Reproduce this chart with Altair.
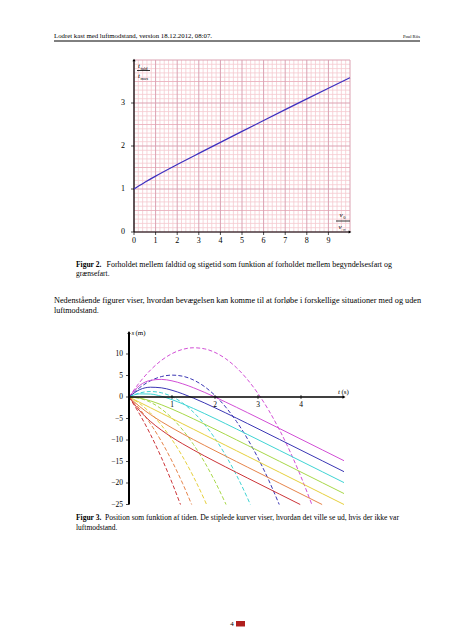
import altair as alt
import numpy as np
import pandas as pd

FONT = "Liberation Serif"

# ---------------- Figur 2: t_fald / t_max versus v0 / v_inf ----------------
RATIO_U = [0, 0.25, 0.5, 1, 2, 3, 4, 5, 6, 7, 8, 9, 10]
RATIO_R = [1.0, 1.08, 1.155, 1.299, 1.568, 1.828, 2.085, 2.34, 2.594, 2.846, 3.096, 3.343, 3.587]
FIG2_X_TICKS = [0, 1, 2, 3, 4, 5, 6, 7, 8, 9]
FIG2_Y_TICKS = [0, 1, 2, 3]

# ---------------- Figur 3: s(t) with (solid) and without (dashed) air resistance ----------------
SERIES_V0 = [15, 10, 5, 0, -5, -10, -15]
SERIES_COLORS = ["#d24fd6", "#3a36b4", "#3fd4d4", "#a8d848", "#e6d03c", "#e6844a", "#cc3438"]

T_GRID = [0, 0.25, 0.5, 0.75, 1, 1.25, 1.5, 1.75, 2, 2.25, 2.5, 2.75, 3, 3.5, 4, 4.5, 5]
SOLID_T_M10 = [0, 0.25, 0.5, 0.75, 1, 1.25, 1.5, 1.75, 2, 2.25, 2.5, 2.75, 3, 3.5, 4, 4.491]
SOLID_T_M15 = [0, 0.25, 0.5, 0.75, 1, 1.25, 1.5, 1.75, 2, 2.25, 2.5, 2.75, 3, 3.5, 3.982]
SOLID_15 = [0, 2.701, 3.869, 4.099, 3.755, 3.058, 2.148, 1.106, -0.017, -1.19, -2.392, -3.613, -4.845, -7.327, -9.821, -12.318, -14.817]
SOLID_10 = [0, 1.713, 2.276, 2.137, 1.566, 0.731, -0.264, -1.358, -2.513, -3.705, -4.919, -6.147, -7.384, -9.870, -12.366, -14.864, -17.363]
SOLID_5 = [0, 0.726, 0.684, 0.175, -0.623, -1.596, -2.676, -3.822, -5.009, -6.22, -7.446, -8.681, -9.922, -12.414, -14.91, -17.409, -19.909]
SOLID_0 = [0, -0.262, -0.908, -1.788, -2.811, -3.923, -5.088, -6.286, -7.504, -8.735, -9.973, -11.216, -12.461, -14.957, -17.455, -19.955, -22.454]
SOLID_M5 = [0, -1.25, -2.5, -3.75, -5, -6.25, -7.5, -8.75, -10, -11.25, -12.5, -13.75, -15, -17.5, -20, -22.5, -25]
SOLID_M10 = [0, -2.238, -4.092, -5.712, -7.189, -8.577, -9.912, -11.214, -12.496, -13.765, -15.027, -16.284, -17.539, -20.043, -22.545, -25]
SOLID_M15 = [0, -3.226, -5.684, -7.675, -9.377, -10.904, -12.324, -13.678, -14.991, -16.28, -17.554, -18.819, -20.078, -22.586, -25]

DASH_T_15 = [0, 0.25, 0.5, 0.75, 1, 1.25, 1.5, 1.75, 2, 2.25, 2.5, 2.75, 3, 3.25, 3.5, 3.75, 4, 4.252]
DASH_15 = [0, 3.443, 6.273, 8.488, 10.09, 11.078, 11.453, 11.213, 10.36, 8.893, 6.813, 4.118, 0.81, -3.112, -7.648, -12.797, -18.56, -25]
DASH_T_10 = [0, 0.25, 0.5, 0.75, 1, 1.25, 1.5, 1.75, 2, 2.25, 2.5, 2.75, 3, 3.25, 3.494]
DASH_10 = [0, 2.193, 3.773, 4.738, 5.09, 4.828, 3.953, 2.463, 0.36, -2.357, -5.688, -9.632, -14.19, -19.362, -25]
DASH_T_5 = [0, 0.25, 0.5, 0.75, 1, 1.25, 1.5, 1.75, 2, 2.25, 2.5, 2.75, 2.822]
DASH_5 = [0, 0.943, 1.273, 0.988, 0.09, -1.422, -3.548, -6.287, -9.64, -13.607, -18.188, -23.382, -25]
DASH_T_0 = [0, 0.25, 0.5, 0.75, 1, 1.25, 1.5, 1.75, 2, 2.257]
DASH_0 = [0, -0.307, -1.228, -2.762, -4.91, -7.672, -11.048, -15.037, -19.64, -25]
DASH_T_M5 = [0, 0.25, 0.5, 0.75, 1, 1.25, 1.5, 1.75, 1.804]
DASH_M5 = [0, -1.557, -3.728, -6.512, -9.91, -13.922, -18.548, -23.787, -25]
DASH_T_M10 = [0, 0.25, 0.5, 0.75, 1, 1.25, 1.457]
DASH_M10 = [0, -2.807, -6.228, -10.262, -14.91, -20.172, -25]
DASH_T_M15 = [0, 0.25, 0.5, 0.75, 1, 1.197]
DASH_M15 = [0, -4.057, -8.728, -14.012, -19.91, -25]

FIG3_X_TICKS = [1, 2, 3, 4]
FIG3_Y_TICKS = [10, 5, 0, -5, -10, -15, -20, -25]

# ---------------- scales (pixel ranges inside the 436x624 canvas) ----------------
X1 = dict(domain=[0, 10], range=[126, 342])
Y1 = dict(domain=[0, 4], range=[224, 52])
X2 = dict(domain=[0, 5], range=[121, 336])
Y2 = dict(domain=[-25, 15], range=[496.5, 324.5])


def X(f, sc):
    return alt.X(f, type="quantitative", scale=alt.Scale(**sc), axis=None)


def Y(f, sc):
    return alt.Y(f, type="quantitative", scale=alt.Scale(**sc), axis=None)


ONE = pd.DataFrame({"k": [0]})


def label(text, x, y, size=7.5, weight="normal", style="normal", align="left", baseline="alphabetic"):
    return alt.Chart(ONE).mark_text(
        text=text, font=FONT, fontSize=size, fontWeight=weight, fontStyle=style,
        align=align, baseline=baseline, fill="black", color="black"
    ).encode(x=alt.value(x), y=alt.value(y))


layers = []

# ---------- page header ----------
layers.append(label("Lodret kast med luftmodstand, version 18.12.2012, 08:07.", 46, 29.5, size=6.8))
layers.append(label("Poul Riis", 412, 29.5, size=4.6, align="right"))
layers.append(alt.Chart(ONE).mark_rule(color="black", strokeWidth=1).encode(
    x=alt.value(46), x2=alt.value(412), y=alt.value(33)))

# ---------- Figur 2 grid ----------
gx = np.round(np.arange(0, 10.0001, 0.2), 2)
gy = np.round(np.arange(0, 4.0001, 0.1), 2)
vgrid = pd.DataFrame({"x": gx, "y0": 0.0, "y1": 4.0})
vgrid["major"] = np.isclose(vgrid["x"] % 1, 0) | np.isclose(vgrid["x"] % 1, 1)
hgrid = pd.DataFrame({"y": gy, "x0": 0.0, "x1": 10.0})
frac = np.round(hgrid["y"] % 1, 2)
hgrid["kind"] = np.where(np.isclose(frac, 0) | np.isclose(frac, 1), "major",
                         np.where(np.isclose(frac, 0.5), "half", "minor"))

layers.append(alt.Chart(vgrid[~vgrid["major"]]).mark_rule(color="#f5c9cf", strokeWidth=0.8).encode(
    x=X("x", X1), y=Y("y0", Y1), y2="y1"))
layers.append(alt.Chart(hgrid[hgrid["kind"] == "minor"]).mark_rule(color="#f5c9cf", strokeWidth=0.8).encode(
    y=Y("y", Y1), x=X("x0", X1), x2="x1"))
layers.append(alt.Chart(hgrid[hgrid["kind"] == "half"]).mark_rule(color="#eab1bd", strokeWidth=0.9).encode(
    y=Y("y", Y1), x=X("x0", X1), x2="x1"))
layers.append(alt.Chart(vgrid[vgrid["major"]]).mark_rule(color="#dba2b2", strokeWidth=1).encode(
    x=X("x", X1), y=Y("y0", Y1), y2="y1"))
layers.append(alt.Chart(hgrid[hgrid["kind"] == "major"]).mark_rule(color="#dba2b2", strokeWidth=1).encode(
    y=Y("y", Y1), x=X("x0", X1), x2="x1"))

# axes of Figur 2
ax1 = pd.DataFrame({"x0": [0.0], "x1": [10.0], "y0": [0.0], "y1": [4.0]})
layers.append(alt.Chart(ax1).mark_rule(color="black", strokeWidth=1.2).encode(
    x=X("x0", X1), x2="x1", y=Y("y0", Y1)))
layers.append(alt.Chart(ax1).mark_rule(color="black", strokeWidth=1.2).encode(
    x=X("x0", X1), y=Y("y0", Y1), y2="y1"))
layers.append(alt.Chart(ax1).mark_point(shape="triangle-up", filled=True, color="black", size=10, opacity=1).encode(
    x=X("x0", X1), y=Y("y1", Y1)))
layers.append(alt.Chart(ax1).mark_point(shape="triangle-right", filled=True, color="black", size=10, opacity=1).encode(
    x=X("x1", X1), y=Y("y0", Y1)))

xt1 = pd.DataFrame({"v": FIG2_X_TICKS, "z": 0.0})
xt1["lab"] = xt1["v"].astype(str)
yt1 = pd.DataFrame({"v": FIG2_Y_TICKS, "z": 0.0})
yt1["lab"] = yt1["v"].astype(str)
layers.append(alt.Chart(xt1).mark_tick(orient="vertical", color="black", size=3, thickness=1, yOffset=1.5).encode(
    x=X("v", X1), y=Y("z", Y1)))
layers.append(alt.Chart(yt1).mark_tick(orient="horizontal", color="black", size=3, thickness=1, xOffset=-1.5).encode(
    x=X("z", X1), y=Y("v", Y1)))
layers.append(alt.Chart(xt1).mark_text(font=FONT, fontSize=8, baseline="middle", align="center", dy=9, fill="black").encode(
    x=X("v", X1), y=Y("z", Y1), text="lab:N"))
layers.append(alt.Chart(yt1).mark_text(font=FONT, fontSize=8, baseline="middle", align="right", dx=-9, fill="black").encode(
    x=X("z", X1), y=Y("v", Y1), text="lab:N"))

# the curve
fig2 = pd.DataFrame({"u": RATIO_U, "r": RATIO_R})
layers.append(alt.Chart(fig2).mark_line(color="#3d2fbf", strokeWidth=1.2, interpolate="monotone").encode(
    x=X("u", X1), y=Y("r", Y1)))

# axis titles (fractions)
layers.append(label("t", 130, 59.5, size=7, style="italic"))
layers.append(label("fald", 132.6, 61.5, size=4.4))
layers.append(alt.Chart(ONE).mark_rule(color="black", strokeWidth=0.8).encode(
    x=alt.value(129), x2=alt.value(142), y=alt.value(62.5)))
layers.append(label("t", 130, 70, size=7, style="italic"))
layers.append(label("max", 132.6, 72, size=4.4))

layers.append(label("v", 331.5, 209, size=7, style="italic"))
layers.append(label("0", 335.2, 211, size=4.4))
layers.append(alt.Chart(ONE).mark_rule(color="black", strokeWidth=0.8).encode(
    x=alt.value(328), x2=alt.value(342), y=alt.value(213)))
layers.append(label("v", 330.5, 220.5, size=7, style="italic"))
layers.append(label("\u221e", 334.5, 222.5, size=4.4))

# ---------- Figur 2 caption and paragraph ----------
layers.append(label("Figur 2.", 68, 259, size=7.5, weight="bold"))
layers.append(label("Forholdet mellem faldtid og stigetid som funktion af forholdet mellem begyndelsesfart og",
                    98.5, 259, size=7.95))
layers.append(label("grænsefart.", 68, 268, size=7.5))
layers.append(label("Nedenstående figurer viser, hvordan bevægelsen kan komme til at forløbe i forskellige situationer med og uden",
                    46, 295, size=8.25))
layers.append(label("luftmodstand.", 46, 305, size=8.1))

# ---------- Figur 3 curves ----------
solid_sets = [(T_GRID, SOLID_15), (T_GRID, SOLID_10), (T_GRID, SOLID_5), (T_GRID, SOLID_0),
              (T_GRID, SOLID_M5), (SOLID_T_M10, SOLID_M10), (SOLID_T_M15, SOLID_M15)]
dash_sets = [(DASH_T_15, DASH_15), (DASH_T_10, DASH_10), (DASH_T_5, DASH_5), (DASH_T_0, DASH_0),
             (DASH_T_M5, DASH_M5), (DASH_T_M10, DASH_M10), (DASH_T_M15, DASH_M15)]


def build(sets):
    frames = []
    for v0, col, (tt, ss) in zip(SERIES_V0, SERIES_COLORS, sets):
        frames.append(pd.DataFrame({"t": tt, "s": ss, "v0": str(v0), "c": col}))
    return pd.concat(frames, ignore_index=True)


solid_df = build(solid_sets)
dash_df = build(dash_sets)

layers.append(alt.Chart(dash_df).mark_line(strokeWidth=1, strokeDash=[4, 2.2], interpolate="monotone").encode(
    x=X("t", X2), y=Y("s", Y2), detail="v0:N", color=alt.Color("c:N", scale=None)))
layers.append(alt.Chart(solid_df).mark_line(strokeWidth=1, interpolate="monotone").encode(
    x=X("t", X2), y=Y("s", Y2), detail="v0:N", color=alt.Color("c:N", scale=None)))

# axes of Figur 3
ax2 = pd.DataFrame({"x0": [0.0], "x1": [5.0], "y0": [-25.0], "y1": [15.0], "z": [0.0]})
layers.append(alt.Chart(ax2).mark_rule(color="black", strokeWidth=1.4).encode(
    x=X("x0", X2), x2="x1", y=Y("z", Y2)))
layers.append(alt.Chart(ax2).mark_rule(color="black", strokeWidth=2).encode(
    x=X("x0", X2), y=Y("y0", Y2), y2="y1"))
layers.append(alt.Chart(ax2).mark_point(shape="triangle-up", filled=True, color="black", size=12, opacity=1).encode(
    x=X("x0", X2), y=Y("y1", Y2)))
layers.append(alt.Chart(ax2).mark_point(shape="triangle-right", filled=True, color="black", size=12, opacity=1).encode(
    x=X("x1", X2), y=Y("z", Y2)))

xt2 = pd.DataFrame({"v": FIG3_X_TICKS, "z": 0.0})
xt2["lab"] = xt2["v"].astype(str)
yt2 = pd.DataFrame({"v": FIG3_Y_TICKS, "z": 0.0})
yt2["lab"] = [str(v).replace("-", "\u2212") for v in FIG3_Y_TICKS]
layers.append(alt.Chart(xt2).mark_tick(orient="vertical", color="black", size=4, thickness=1).encode(
    x=X("v", X2), y=Y("z", Y2)))
layers.append(alt.Chart(yt2).mark_tick(orient="horizontal", color="black", size=3, thickness=1, xOffset=-1.5).encode(
    x=X("z", X2), y=Y("v", Y2)))
layers.append(alt.Chart(xt2).mark_text(font=FONT, fontSize=7.5, baseline="middle", align="center", dy=7.5, fill="black").encode(
    x=X("v", X2), y=Y("z", Y2), text="lab:N"))
layers.append(alt.Chart(yt2).mark_text(font=FONT, fontSize=7.5, baseline="middle", align="right", dx=-6, fill="black").encode(
    x=X("z", X2), y=Y("v", Y2), text="lab:N"))

layers.append(label("s", 123.5, 326.5, size=7, style="italic"))
layers.append(label("(m)", 127.5, 326.5, size=7))
layers.append(label("t", 330, 385.5, size=7, style="italic"))
layers.append(label("(s)", 333.5, 385.5, size=7))

# ---------- Figur 3 caption ----------
layers.append(label("Figur 3.", 68, 511.5, size=7.5, weight="bold"))
layers.append(label("Position som funktion af tiden. De stiplede kurver viser, hvordan det ville se ud, hvis der ikke var",
                    97, 511.5, size=7.55))
layers.append(label("luftmodstand.", 68, 521.5, size=7.5))

# ---------- page number ----------
layers.append(label("4", 224, 618, size=7, align="center"))
layers.append(alt.Chart(ONE).mark_rect(color="#b0201e").encode(
    x=alt.value(228), x2=alt.value(237), y=alt.value(613), y2=alt.value(618.5)))

chart = alt.layer(*layers).resolve_scale(x="independent", y="independent").properties(
    width=436, height=624, autosize=alt.AutoSizeParams(type="none"), padding=0, background="white"
).configure_view(stroke=None)

chart.save("out.html", embed_options={"renderer": "svg", "actions": False})
